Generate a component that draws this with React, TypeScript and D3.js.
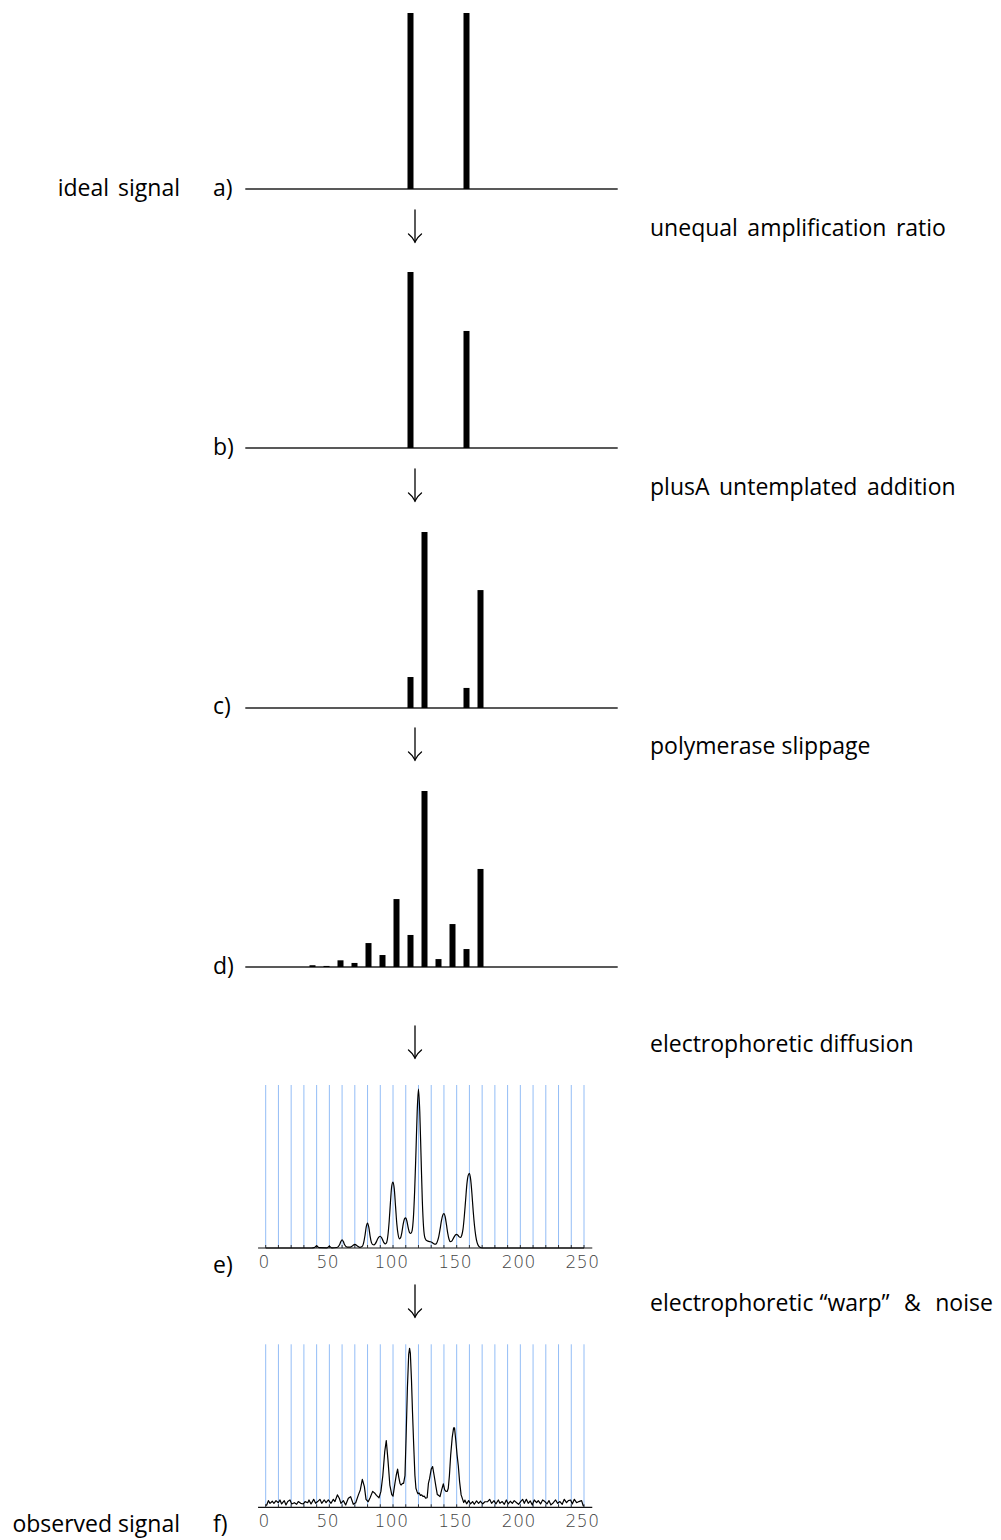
import React from "react";
import * as d3 from "d3";

// Text labels
const panelTags = ["a)", "b)", "c)", "d)", "e)", "f)"];
const stepNotes = [
  "unequal amplification ratio",
  "plusA untemplated addition",
  "polymerase slippage",
  "electrophoretic diffusion",
  "electrophoretic \u201cwarp\u201d & noise",
];
const sideNotes = ["ideal signal", "observed signal"];

// a) ideal signal: two alleles (fragment size, relative height)
const idealSizes = [110, 150];
const idealHeights = [1, 1];
// b) unequal amplification ratio
const ratioSizes = [110, 150];
const ratioHeights = [1, 0.665];
// c) plusA untemplated addition
const plusASizes = [110, 120, 150, 160];
const plusAHeights = [0.176, 1, 0.114, 0.67];
// d) polymerase slippage (stutter)
const slipSizes = [40, 50, 60, 70, 80, 90, 100, 110, 120, 130, 140, 150, 160];
const slipHeights = [0.01, 0.006, 0.038, 0.023, 0.136, 0.068, 0.386, 0.182, 1, 0.045, 0.244, 0.102, 0.557];

// e) electrophoretic diffusion trace: [size, relative intensity]
const diffusedTrace: [number, number][] = [
  [0, 0], [36, 0], [38, 0.002], [40, 0.013], [42, 0.002], [48, 0.001], [50, 0.01], [52, 0.001],
  [56, 0.003], [58, 0.02], [59, 0.04], [60, 0.052], [61, 0.04], [62, 0.02], [64, 0.005],
  [66, 0.005], [68, 0.013], [70, 0.023], [72, 0.013], [74, 0.004],
  [76, 0.012], [77, 0.035], [78, 0.08], [79, 0.135], [80, 0.157], [81, 0.13], [82, 0.075], [83, 0.035],
  [84, 0.022], [85, 0.02], [86, 0.026], [87, 0.04], [88, 0.058], [89, 0.07], [90, 0.074], [91, 0.065],
  [92, 0.048], [93, 0.032], [94, 0.026], [95, 0.035], [96, 0.08], [97, 0.17], [98, 0.29], [99, 0.39],
  [100, 0.415], [101, 0.37], [102, 0.26], [103, 0.15], [104, 0.085], [105, 0.058], [106, 0.065],
  [107, 0.1], [108, 0.15], [109, 0.183], [110, 0.19], [111, 0.165], [112, 0.125], [113, 0.097],
  [114, 0.092], [115, 0.11], [116, 0.19], [117, 0.36], [118, 0.6], [119, 0.86], [120, 1], [121, 0.86],
  [122, 0.58], [123, 0.3], [124, 0.13], [125, 0.065], [126, 0.05], [127, 0.045], [128, 0.042],
  [129, 0.04], [130, 0.038], [131, 0.033], [132, 0.027], [133, 0.024], [134, 0.027], [135, 0.045],
  [136, 0.075], [137, 0.12], [138, 0.17], [139, 0.205], [140, 0.216], [141, 0.195], [142, 0.145],
  [143, 0.092], [144, 0.055], [145, 0.04], [146, 0.042], [147, 0.055], [148, 0.07], [149, 0.082],
  [150, 0.086], [151, 0.08], [152, 0.07], [153, 0.066], [154, 0.08], [155, 0.12], [156, 0.2],
  [157, 0.3], [158, 0.4], [159, 0.455], [160, 0.47], [161, 0.43], [162, 0.34], [163, 0.23],
  [164, 0.14], [165, 0.075], [166, 0.035], [167, 0.015], [168, 0.006], [170, 0], [250, 0],
];

// f) observed trace after mobility warp and noise: [size, relative intensity]
const observedTrace: [number, number][] = [
  [0, 0.012], [0.8, 0.015], [2.1, 0.042], [3.4, 0.025], [5.2, 0.038], [6.5, 0.025], [8.1, 0.042],
  [9.9, 0.029], [11.2, 0.046], [12.5, 0.021], [14.6, 0.042], [15.9, 0.015], [17.3, 0.036],
  [19.1, 0.046], [20.4, 0.021], [22.5, 0.029], [24.3, 0.019], [25.6, 0.036], [27.5, 0.025],
  [29.6, 0.021], [30.9, 0.036], [33, 0.029], [34, 0.046], [35.6, 0.021], [37.7, 0.05], [39.2, 0.025],
  [40.8, 0.036], [42.6, 0.05], [44, 0.025], [46, 0.046], [47.4, 0.029], [49.2, 0.046], [51.3, 0.025],
  [53.1, 0.05], [54.4, 0.036], [56.3, 0.078], [57.8, 0.057], [59.1, 0.025], [61, 0.042], [62.8, 0.015],
  [64.9, 0.057], [66.7, 0.067], [68.8, 0.019], [70.7, 0.029], [72.8, 0.078], [74.3, 0.109],
  [75.9, 0.176], [77.5, 0.13], [78.8, 0.05], [80.5, 0.035], [82, 0.06], [84, 0.1], [85.5, 0.09],
  [87, 0.075], [89, 0.06], [90.5, 0.1], [92, 0.2], [93.5, 0.35], [94.7, 0.42], [96, 0.3], [97.5, 0.14],
  [99, 0.08], [100, 0.07], [101.5, 0.15], [102.5, 0.2], [103.6, 0.24], [104.5, 0.19], [105.5, 0.15],
  [106.3, 0.14], [107.5, 0.15], [108.3, 0.15], [109.4, 0.2], [110.3, 0.45], [111.3, 0.75],
  [112.3, 0.96], [113, 1.0], [113.6, 0.97], [114.5, 0.8], [115.3, 0.6], [116.2, 0.4], [117.2, 0.2],
  [118, 0.12], [118.8, 0.1], [119.6, 0.085], [120.5, 0.09], [121.5, 0.075], [122.5, 0.078],
  [123.5, 0.068], [124.5, 0.07], [125.6, 0.058], [126.8, 0.06], [127.8, 0.15], [128.7, 0.18],
  [130, 0.24], [131.1, 0.256], [132.3, 0.2], [133.7, 0.13], [134.8, 0.08], [135.8, 0.075],
  [136.9, 0.067], [138.2, 0.11], [139.5, 0.147], [140.6, 0.11], [141.6, 0.1], [142.6, 0.1],
  [143.4, 0.12], [144.3, 0.2], [145.3, 0.33], [146.5, 0.44], [147.6, 0.5], [148.3, 0.5],
  [149.3, 0.42], [150.3, 0.33], [151.3, 0.26], [152.3, 0.16], [153.5, 0.078], [154.7, 0.05],
  [155.5, 0.03], [156.5, 0.045], [157.8, 0.022], [159.4, 0.042], [160.9, 0.021], [162.5, 0.036],
  [163.8, 0.019], [165.6, 0.04], [167.2, 0.025], [168.7, 0.038], [170.3, 0.021], [172.2, 0.035],
  [174.3, 0.036], [175.9, 0.05], [177.4, 0.025], [179.3, 0.042], [180.8, 0.021], [182.7, 0.046],
  [184, 0.025], [185.8, 0.036], [187.4, 0.019], [189, 0.046], [190.5, 0.021], [192.1, 0.038],
  [193.7, 0.025], [195.2, 0.042], [197.1, 0.029], [198.6, 0.019], [200.2, 0.036], [201.8, 0.05],
  [203.1, 0.025], [204.7, 0.05], [206.2, 0.025], [207.8, 0.04], [209.4, 0.015], [210.9, 0.046],
  [212.8, 0.029], [214.1, 0.042], [215.9, 0.021], [217.5, 0.046], [219.3, 0.036], [220.9, 0.021],
  [222.5, 0.042], [224, 0.015], [225.9, 0.029], [227.7, 0.046], [229.3, 0.025], [231.1, 0.036],
  [232.9, 0.019], [234.5, 0.05], [236.3, 0.029], [237.7, 0.042], [239.5, 0.046], [240.8, 0.021],
  [242.4, 0.05], [244.2, 0.029], [246, 0.036], [248.1, 0.042], [249.4, 0.01], [250, 0.008],
];

const axisTicks = [0, 50, 100, 150, 200, 250];
const gridSizes = d3.range(0, 251, 10);

const TEXT_FONT = "'Open Sans', 'DejaVu Sans', sans-serif";
const TICK_FONT = "'DejaVu Sans ExtraLight', 'DejaVu Sans', sans-serif";

// geometry of the stick panels (a-d)
const barX = d3.scaleLinear().domain([0, 250]).range([256.5, 606.5]);
const barLen = d3.scaleLinear().domain([0, 1]).range([0, 176]);
const barBaselines = [189, 448, 708, 967];
const barDomain = [-8, 258];
const BAR_W = 6;

// geometry of the trace panels (e-f)
const traceX = d3.scaleLinear().domain([0, 250]).range([265.7, 584]);
const traceLen = d3.scaleLinear().domain([0, 1]).range([0, 159]);
const traceBaselines = [1248, 1507.3];
const traceDomain = [-6, 256.5];
const GRID_H = 163;

const tagBaselines = [196, 455, 714, 974, 1273, 1532];
const noteBaselines = [236, 495, 754, 1052, 1311];
// extra space added before each word after the first
const noteGaps = [
  [3.5, 3.5],
  [3.5, 3.5],
  [0],
  [0],
  [0, 8.5, 8.5],
];
const arrowCenters = [227, 486, 745, 1043, 1302];

function StickPanel({ base, sizes, heights }: { base: number; sizes: number[]; heights: number[] }) {
  return (
    <g>
      <line x1={barX(barDomain[0])} x2={barX(barDomain[1])} y1={base} y2={base} stroke="#222" strokeWidth={1.5} />
      {sizes.map((s, i) => (
        <rect
          key={s}
          x={barX(s) - BAR_W / 2}
          y={base - barLen(heights[i])}
          width={BAR_W}
          height={barLen(heights[i])}
          fill="#000"
        />
      ))}
    </g>
  );
}

function TracePanel({ base, trace, curved }: { base: number; trace: [number, number][]; curved: boolean }) {
  const y = (v: number) => base - traceLen(v);
  const line = d3
    .line<[number, number]>()
    .x((d) => traceX(d[0]))
    .y((d) => y(d[1]))
    .curve(curved ? d3.curveMonotoneX : d3.curveLinear);
  return (
    <g>
      {gridSizes.map((g) => (
        <line key={g} x1={traceX(g)} x2={traceX(g)} y1={base - GRID_H} y2={base} stroke="#93bdf6" strokeWidth={1} />
      ))}
      <line x1={traceX(traceDomain[0])} x2={traceX(traceDomain[1])} y1={base} y2={base} stroke="#111" strokeWidth={1.2} />
      {gridSizes.map((g) => (
        <line key={"t" + g} x1={traceX(g)} x2={traceX(g)} y1={base - 3} y2={base} stroke="#333" strokeWidth={1} />
      ))}
      <path d={line(trace) || ""} fill="none" stroke="#000" strokeWidth={1.2} strokeLinejoin="round" />
      {axisTicks.map((t) => (
        <text
          key={t}
          x={traceX(t) - 1.5}
          y={base + 19.5}
          textAnchor="middle"
          fontFamily={TICK_FONT}
          fontWeight={200}
          fontSize={17}
          letterSpacing={0.5}
          fill="#444"
        >
          {t}
        </text>
      ))}
    </g>
  );
}

function DownArrow({ cy }: { cy: number }) {
  const x = 415;
  const top = cy - 17;
  const tip = cy + 15;
  return (
    <g fill="none" stroke="#000" strokeWidth={1.3} strokeLinecap="round">
      <line x1={x} x2={x} y1={top} y2={tip} />
      <path d={`M${x - 6.5},${tip - 8} Q${x - 2},${tip - 4.5} ${x},${tip} Q${x + 2},${tip - 4.5} ${x + 6.5},${tip - 8}`} />
    </g>
  );
}

function Note({ text, y, gaps }: { text: string; y: number; gaps: number[] }) {
  const words = text.split(" ");
  return (
    <text x={650} y={y}>
      {words.map((w, i) => (
        <tspan key={i} dx={i > 0 ? gaps[i - 1] || 0 : 0}>
          {i > 0 ? "\u00a0" + w : w}
        </tspan>
      ))}
    </text>
  );
}

export default function App() {
  const stickData = [
    { sizes: idealSizes, heights: idealHeights },
    { sizes: ratioSizes, heights: ratioHeights },
    { sizes: plusASizes, heights: plusAHeights },
    { sizes: slipSizes, heights: slipHeights },
  ];
  return (
    <svg
      width={1001}
      height={1540}
      viewBox="0 0 1001 1540"
      style={{ position: "absolute", left: 0, top: 0, display: "block", background: "#fff" }}
    >
      {stickData.map((d, i) => (
        <StickPanel key={i} base={barBaselines[i]} sizes={d.sizes} heights={d.heights} />
      ))}
      <TracePanel base={traceBaselines[0]} trace={diffusedTrace} curved={true} />
      <TracePanel base={traceBaselines[1]} trace={observedTrace} curved={false} />

      {arrowCenters.map((c) => (
        <DownArrow key={c} cy={c} />
      ))}

      <g fontFamily={TEXT_FONT} fontSize={23} fill="#000">
        {panelTags.map((t, i) => (
          <text key={t} x={213} y={tagBaselines[i]}>
            {t}
          </text>
        ))}
        {stepNotes.map((t, i) => (
          <Note key={t} text={t} y={noteBaselines[i]} gaps={noteGaps[i]} />
        ))}
        <text x={180} y={tagBaselines[0]} textAnchor="end" wordSpacing={3}>
          {sideNotes[0]}
        </text>
        <text x={180} y={tagBaselines[5]} textAnchor="end">
          {sideNotes[1]}
        </text>
      </g>
    </svg>
  );
}
